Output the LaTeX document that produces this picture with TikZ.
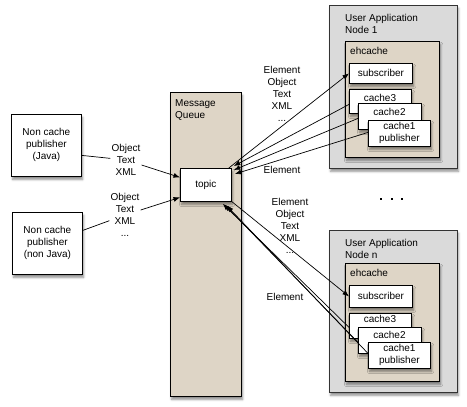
\documentclass[tikz,border=0pt]{standalone}
\usepackage{fontspec}
\setmainfont{Liberation Sans}
\usetikzlibrary{arrows.meta,shadows.blur}
\definecolor{tan}{RGB}{222,213,198}
\definecolor{appgray}{RGB}{218,218,218}
\begin{document}
\begin{tikzpicture}[x=1pt,y=-1pt,
  font=\fontsize{10}{12}\selectfont,
  shad/.style={blur shadow={shadow xshift=1.2pt,shadow yshift=-3pt,shadow blur radius=2.2pt,shadow opacity=45}},
  box/.style={draw=black,line width=0.8pt,fill=white,inner sep=0pt,anchor=north west,align=center,shad},
  tanbox/.style={box,fill=tan},
  graybox/.style={draw=black!80,line width=0.6pt,fill=appgray,inner sep=0pt,anchor=north west,shad},
  lbl/.style={inner sep=1pt,align=center},
  tl/.style={inner sep=0pt,anchor=north west,align=left},
  toplbl/.style={anchor=north,inner sep=0pt},
  conn/.style={line width=0.7pt},
  arr/.style={conn,-{Latex[length=6.5pt,width=5pt]}}
]
\useasboundingbox (0,0) rectangle (467,407);

% left publishers
\node[box,minimum width=70pt,minimum height=62pt] (java) at (11,114) {Non cache\\publisher\\(Java)};
\node[box,minimum width=70pt,minimum height=62pt] (nonjava) at (12,212) {Non cache\\publisher\\(non Java)};

% message queue
\node[tanbox,minimum width=71pt,minimum height=304pt] (queue) at (170,92) {};
\node[tl] (queuelbl) at (175,99.5) {Message\\Queue};
\node[box,minimum width=51pt,minimum height=33pt] (topic) at (180,168) {topic};

% application node 1
\node[graybox,minimum width=128pt,minimum height=163pt] (app1) at (329,5) {};
\node[tl] (app1lbl) at (345,14.5) {User Application\\Node 1};
\node[tanbox,minimum width=94pt,minimum height=116pt] (eh1) at (345,41) {};
\node[tl] (eh1lbl) at (350,47.5) {ehcache};
\node[box,minimum width=63pt,minimum height=20pt] (sub1) at (349,63) {subscriber};
\node[box,minimum width=62pt,minimum height=24pt] (c3a) at (349,89) {};
\node[toplbl] (c3albl) at (380,94.5) {cache3};
\node[box,minimum width=63pt,minimum height=26pt] (c2a) at (358,103) {};
\node[toplbl] (c2albl) at (389.5,108.5) {cache2};
\node[box,minimum width=62pt,minimum height=26pt] (c1a) at (368,120) {cache1\\publisher};

% application node n
\node[graybox,minimum width=128pt,minimum height=162pt] (app2) at (329,230) {};
\node[tl] (app2lbl) at (345,239.5) {User Application\\Node n};
\node[tanbox,minimum width=94pt,minimum height=118pt] (eh2) at (345,263) {};
\node[tl] (eh2lbl) at (350,269.5) {ehcache};
\node[box,minimum width=63pt,minimum height=22pt] (sub2) at (349,285) {subscriber};
\node[box,minimum width=62pt,minimum height=25pt] (c3b) at (349,313) {};
\node[toplbl] (c3blbl) at (380,315.5) {cache3};
\node[box,minimum width=63pt,minimum height=26pt] (c2b) at (358,327) {};
\node[toplbl] (c2blbl) at (389.5,331.5) {cache2};
\node[box,minimum width=62pt,minimum height=26pt] (c1b) at (368,342) {cache1\\publisher};

% dots
\fill (380,198) rectangle (382.2,200.2);
\fill (391,198) rectangle (393.2,200.2);
\fill (401,198) rectangle (403.2,200.2);

% left labels
\node[lbl] (lab1) at (126,160) {Object\\Text\\XML};
\node[lbl] (lab2) at (125,215) {Object\\Text\\XML\\...};
\coordinate (j1) at ([yshift=-10pt]java.east);
\coordinate (n1) at ([yshift=13pt]nonjava.east);
\draw[conn] (j1) -- (lab1);
\draw[arr] (lab1) -- ([yshift=7.5pt]topic.west);
\draw[conn] (n1) -- (lab2);
\draw[arr] (lab2) -- ([yshift=-12.5pt]topic.west);

% right labels
\node[lbl] (lab3) at (282,94) {Element\\Object\\Text\\XML\\...};
\node[lbl] (lab4) at (282,170) {Element};
\node[lbl] (lab5) at (290,226) {Element\\Object\\Text\\XML\\...};
\node[lbl] (lab6) at (285,297) {Element};

% top connectors
\draw[arr] ([xshift=-3pt]topic.north east) -- (sub1.west);
\draw[arr] ([yshift=-3pt]c3a.west) -- ([xshift=2pt,yshift=2pt]topic.north east);
\draw[arr] ([yshift=-2pt]c2a.west) -- ([xshift=2pt,yshift=-2pt]topic.north east);
\draw[arr] ([yshift=1pt]c1a.west) -- ([xshift=3pt,yshift=-6pt]topic.north east);

% bottom connectors
\draw[arr] ([xshift=-1pt,yshift=1pt]topic.south east) -- (sub2.west);
\draw[arr] ([yshift=-1.5pt]c3b.west) -- ([xshift=-9pt,yshift=-2pt]topic.south east);
\draw[arr] ([yshift=-2pt]c2b.west) -- ([xshift=-7pt,yshift=-3pt]topic.south east);
\draw[arr] ([yshift=2pt]c1b.west) -- ([xshift=-5pt,yshift=-4pt]topic.south east);
\end{tikzpicture}
\end{document}
